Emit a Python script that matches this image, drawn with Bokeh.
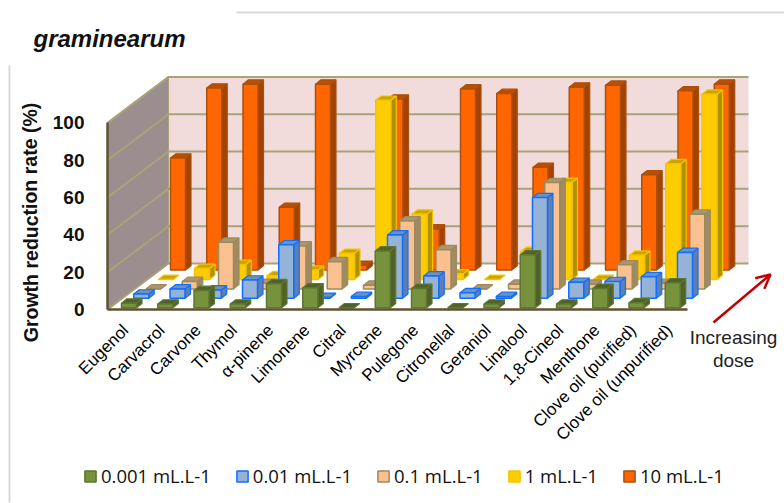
from bokeh.embed import file_html
from bokeh.models import (Arrow, BoxAnnotation, FixedTicker, Label,
                          Legend, LegendItem, OpenHead, Range1d)
from bokeh.plotting import figure
from bokeh.resources import INLINE

# Growth reduction rate (%) of each compound at each dose
categories = ["Eugenol", "Carvacrol", "Carvone", "Thymol", "α-pinene", "Limonene", "Citral",
              "Myrcene", "Pulegone", "Citronellal", "Geraniol", "Linalool", "1,8-Cineol",
              "Menthone", "Clove oil (purified)", "Clove oil (unpurified)"]
dose_001 = [2.5, 2, 9.3, 2, 12.9, 10.7, 0, 30.5, 10.4, 0, 2, 28.4, 2, 10.4, 2.7, 13.4]
dose_01 = [2.3, 5, 4.5, 9.8, 28.7, 0.5, 1, 34, 12, 3, 1, 54, 8.6, 9, 11.6, 24.6]
dose_1 = [0, 4, 25, 3, 23, 14.6, 2, 36.4, 21, 0, 2.5, 57, 2.5, 12.9, 3, 40]
dose_10 = [0, 5.9, 8, 2, 5, 14, 96, 35, 3, 0, 15, 52, 0, 13, 62, 99.3]
dose_100 = [60, 97.5, 99.6, 33.6, 99.6, 2.5, 91.6, 22, 97, 94.6, 55, 98, 99, 51, 96, 99.6]
series_labels = ["0.001 mL.L-1", "0.01 mL.L-1", "0.1 mL.L-1", "1 mL.L-1", "10 mL.L-1"]
y_ticks = [0, 20, 40, 60, 80, 100]
series_values = [dose_001, dose_01, dose_1, dose_10, dose_100]

# face colours per series: front, side, top, outline
series_styles = [
    ("#76923c", "#4f6228", "#4f6228", "#5f7530"),
    ("#95b3d7", "#5f7fae", "#7390b5", "#0f6fff"),
    ("#fac090", "#a08a62", "#ab9670", "#9c8a5f"),
    ("#ffcc00", "#b08f00", "#c9a300", "#f5c400"),
    ("#ff6600", "#a64200", "#bf4d00", "#a85010"),
]

# box scale: one category is 36.25 px wide, one percent is 1.866 px tall
CAT_PX, PCT_PX = 36.25, 1.866
LEFT_PX, FLOOR_PX = 107, 309


def sx(px):
    return (px - LEFT_PX) / CAT_PX


def sy(py):
    return (FLOOR_PX - py) / PCT_PX


# oblique projection of the depth axis
WALL_DX, WALL_DY = 61 / CAT_PX, 46 / PCT_PX
STEP_DX, STEP_DY = 12.25 / CAT_PX, 9.45 / PCT_PX
BAR_X0, BAR_Y0 = 14 / CAT_PX, 1.7 / PCT_PX
BAR_W, BAR_DX, BAR_DY = 15 / CAT_PX, 5.5 / CAT_PX, 4.3 / PCT_PX

p = figure(width=784, height=503, output_backend="svg", toolbar_location=None,
           x_range=Range1d(sx(0), sx(784)), y_range=Range1d(sy(503), sy(0)),
           min_border=0, outline_line_color=None,
           background_fill_color="white", border_fill_color="white")
p.grid.visible = False

# walls and floor
n = len(categories)
p.patch([0, n, n + WALL_DX, WALL_DX], [0, 0, WALL_DY, WALL_DY], fill_color="white", line_color=None)
p.patch([WALL_DX, n + WALL_DX, n + WALL_DX, WALL_DX], [WALL_DY, WALL_DY, 100 + WALL_DY, 100 + WALL_DY],
        fill_color="#f2dcdb", line_color=None)
p.patch([0, WALL_DX, WALL_DX, 0], [0, WALL_DY, 100 + WALL_DY, 100], fill_color="#9c8e8e", line_color=None)
grid_color = "#a8a278"
for t in y_ticks:
    p.line([0, WALL_DX, n + WALL_DX], [t, t + WALL_DY, t + WALL_DY], line_color=grid_color, line_width=2)
p.line([WALL_DX, WALL_DX], [WALL_DY, 100 + WALL_DY], line_color=grid_color, line_width=1)

# bars, back row first so the nearer rows cover them
legend_items = {}
for s in reversed(range(len(series_values))):
    front, side, top, edge = series_styles[s]
    fx, fy, sxs, sys, txs, tys = [], [], [], [], [], []
    for i, v in enumerate(series_values[s]):
        x0 = i + BAR_X0 + s * STEP_DX
        y0 = BAR_Y0 + s * STEP_DY
        x1, y1 = x0 + BAR_W, y0 + v
        fx.append([x0, x1, x1, x0])
        fy.append([y0, y0, y1, y1])
        sxs.append([x1, x1 + BAR_DX, x1 + BAR_DX, x1])
        sys.append([y0, y0 + BAR_DY, y1 + BAR_DY, y1])
        txs.append([x0, x1, x1 + BAR_DX, x0 + BAR_DX])
        tys.append([y1, y1, y1 + BAR_DY, y1 + BAR_DY])
    p.patches(sxs, sys, fill_color=side, line_color=edge, line_width=1.2)
    p.patches(txs, tys, fill_color=top, line_color=edge, line_width=1.2)
    legend_items[s] = p.patches(fx, fy, fill_color=front, line_color=edge, line_width=1.5)

# axes run along the front edges of the box
p.yaxis.fixed_location = 0
p.yaxis.ticker = FixedTicker(ticks=y_ticks)
p.yaxis.bounds = (0, 100)
p.yaxis.axis_line_color = "#5c5430"
p.yaxis.axis_line_width = 2.5
p.yaxis.major_tick_line_color = None
p.yaxis.minor_tick_line_color = None
p.yaxis.major_label_standoff = 17
p.yaxis.major_label_text_font = "Liberation Sans"
p.yaxis.major_label_text_font_style = "bold"
p.yaxis.major_label_text_font_size = "19px"
p.yaxis.major_label_text_color = "#111111"

p.xaxis.fixed_location = 0
p.xaxis.ticker = FixedTicker(ticks=[i + 0.5 for i in range(n)])
p.xaxis.major_label_overrides = {i + 0.5: c for i, c in enumerate(categories)}
p.xaxis.bounds = (0, n)
p.xaxis.axis_line_color = "#5c5430"
p.xaxis.axis_line_width = 2.5
p.xaxis.major_tick_line_color = None
p.xaxis.minor_tick_line_color = None
p.xaxis.major_label_orientation = 0.785
p.xaxis.major_label_standoff = 12
p.xaxis.major_label_text_font = "Liberation Sans"
p.xaxis.major_label_text_font_size = "17px"
p.xaxis.major_label_text_color = "#000000"

p.add_layout(Label(x=sx(33), y=sy(38), text="graminearum", text_baseline="middle",
                   text_font="Liberation Sans", text_font_style="bold italic", text_font_size="24px",
                   text_color="#111111"))
p.add_layout(Label(x=sx(30), y=sy(222), text="Growth reduction rate (%)", angle=1.5708,
                   text_align="center", text_baseline="middle", text_font="Liberation Sans",
                   text_font_style="bold", text_font_size="19.5px", text_color="#111111"))

# dose direction arrow and its caption
p.add_layout(Arrow(x_start=sx(713), y_start=sy(322), x_end=sx(770), y_end=sy(274), line_color="#c00000",
                   line_width=2.5, end=OpenHead(line_color="#c00000", line_width=2.5, size=14)))
for py, word in ((337, "Increasing"), (360, "dose")):
    p.add_layout(Label(x=sx(733), y=sy(py), text=word, text_align="center", text_baseline="middle",
                       text_font="Liberation Sans", text_font_size="19px", text_color="#222222"))

# faint rules around the chart
for l, r, t, b in ((236, 784, 11, 13), (8, 10, 65, 502)):
    p.add_layout(BoxAnnotation(left=sx(l), right=sx(r), top=sy(t), bottom=sy(b), fill_color="#d9d9d9",
                               fill_alpha=1, line_color=None, level="underlay"))

legend = Legend(items=[LegendItem(label=series_labels[s], renderers=[legend_items[s]]) for s in range(5)],
                orientation="horizontal", location=(83, 15), glyph_width=14, glyph_height=14,
                label_text_font="Open Sans", label_text_font_size="18.5px", label_text_color="#111111",
                spacing=24, label_standoff=4, padding=0, margin=0,
                border_line_color=None, background_fill_alpha=0)
p.add_layout(legend, "center")

open("out.html", "w").write(file_html(p, INLINE))
